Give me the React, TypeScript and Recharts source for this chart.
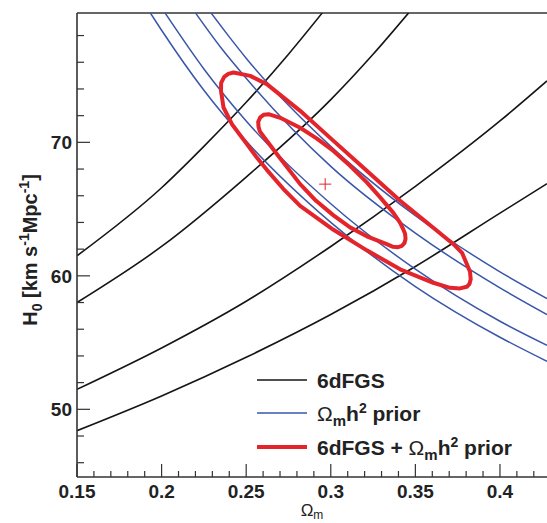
import { LineChart, Line, XAxis, YAxis, ReferenceLine, Legend } from 'recharts'

const X_DOMAIN: [number, number] = [0.15, 0.4278]
const Y_DOMAIN: [number, number] = [44.93, 79.69]

const X_TICKS = [0.15, 0.16, 0.17, 0.18, 0.19, 0.2, 0.21, 0.22, 0.23, 0.24, 0.25, 0.26, 0.27, 0.28, 0.29, 0.3, 0.31, 0.32, 0.33, 0.34, 0.35, 0.36, 0.37, 0.38, 0.39, 0.4, 0.41, 0.42]
const Y_TICKS = [46, 48, 50, 52, 54, 56, 58, 60, 62, 64, 66, 68, 70, 72, 74, 76, 78]

// 6dFGS contours (black)
const bao1 = [
  { x: 0.15, y: 61.5 }, { x: 0.2, y: 66.6 }, { x: 0.225, y: 69.7 }, { x: 0.25, y: 73.0 },
  { x: 0.275, y: 76.6 }, { x: 0.295, y: 79.7 },
]
const bao2 = [
  { x: 0.15, y: 58.0 }, { x: 0.2, y: 62.2 }, { x: 0.25, y: 67.4 }, { x: 0.3, y: 73.2 },
  { x: 0.325, y: 76.6 }, { x: 0.346, y: 79.7 },
]
const bao3 = [
  { x: 0.15, y: 51.5 }, { x: 0.2, y: 54.6 }, { x: 0.25, y: 58.1 }, { x: 0.3, y: 62.2 },
  { x: 0.35, y: 66.7 }, { x: 0.4, y: 71.6 }, { x: 0.4278, y: 74.6 },
]
const bao4 = [
  { x: 0.15, y: 48.4 }, { x: 0.2, y: 51.0 }, { x: 0.25, y: 53.9 }, { x: 0.3, y: 57.1 },
  { x: 0.35, y: 60.7 }, { x: 0.4, y: 64.7 }, { x: 0.4278, y: 66.9 },
]

// Omega_m h^2 prior contours (blue)
const prior1 = [
  { x: 0.1933, y: 79.7 }, { x: 0.2, y: 78.4 }, { x: 0.225, y: 73.9 }, { x: 0.25, y: 70.1 },
  { x: 0.3, y: 64.0 }, { x: 0.35, y: 59.2 }, { x: 0.4, y: 55.4 }, { x: 0.4278, y: 53.6 },
]
const prior2 = [
  { x: 0.202, y: 79.7 }, { x: 0.225, y: 75.5 }, { x: 0.25, y: 71.6 }, { x: 0.3, y: 65.4 },
  { x: 0.35, y: 60.5 }, { x: 0.4, y: 56.6 }, { x: 0.4278, y: 54.8 },
]
const prior3 = [
  { x: 0.22, y: 79.7 }, { x: 0.235, y: 77.1 }, { x: 0.25, y: 74.8 }, { x: 0.3, y: 68.2 },
  { x: 0.35, y: 63.2 }, { x: 0.4, y: 59.1 }, { x: 0.4278, y: 57.1 },
]
const prior4 = [
  { x: 0.2292, y: 79.7 }, { x: 0.24, y: 77.9 }, { x: 0.25, y: 76.3 }, { x: 0.3, y: 69.7 },
  { x: 0.35, y: 64.5 }, { x: 0.4, y: 60.3 }, { x: 0.4278, y: 58.3 },
]

// combined contours (red), closed loops
const combinedOuter = [
  { x: 0.2425, y: 75.23 }, { x: 0.2524, y: 74.98 }, { x: 0.2622, y: 74.36 }, { x: 0.2819, y: 72.36 },
  { x: 0.3016, y: 70.11 }, { x: 0.3213, y: 67.87 }, { x: 0.341, y: 65.62 }, { x: 0.3606, y: 63.6 },
  { x: 0.3725, y: 62.37 }, { x: 0.3776, y: 61.72 }, { x: 0.3804, y: 60.88 }, { x: 0.3823, y: 60.3 },
  { x: 0.3827, y: 59.75 }, { x: 0.382, y: 59.4 }, { x: 0.3804, y: 59.18 }, { x: 0.3764, y: 59.06 },
  { x: 0.3705, y: 59.1 }, { x: 0.3606, y: 59.48 }, { x: 0.341, y: 60.49 }, { x: 0.3213, y: 61.91 },
  { x: 0.3016, y: 63.45 }, { x: 0.2819, y: 65.24 }, { x: 0.2719, y: 66.52 }, { x: 0.2622, y: 67.94 },
  { x: 0.2563, y: 68.86 }, { x: 0.2504, y: 69.87 }, { x: 0.2416, y: 71.36 }, { x: 0.2366, y: 72.61 },
  { x: 0.2351, y: 73.86 }, { x: 0.2352, y: 74.46 }, { x: 0.237, y: 74.91 }, { x: 0.2394, y: 75.13 },
]
const combinedInner = [
  { x: 0.2632, y: 72.11 }, { x: 0.2701, y: 71.84 }, { x: 0.2819, y: 71.09 }, { x: 0.2916, y: 70.3 },
  { x: 0.3016, y: 69.36 }, { x: 0.3114, y: 68.24 }, { x: 0.3213, y: 67.0 }, { x: 0.3292, y: 65.88 },
  { x: 0.337, y: 64.72 }, { x: 0.341, y: 63.97 }, { x: 0.3427, y: 63.52 }, { x: 0.3439, y: 63.15 },
  { x: 0.3442, y: 62.77 }, { x: 0.3436, y: 62.47 }, { x: 0.3421, y: 62.25 }, { x: 0.3398, y: 62.15 },
  { x: 0.3368, y: 62.17 }, { x: 0.3331, y: 62.37 }, { x: 0.3213, y: 62.96 }, { x: 0.3114, y: 63.63 },
  { x: 0.3016, y: 64.53 }, { x: 0.2913, y: 65.62 }, { x: 0.2819, y: 66.87 }, { x: 0.2681, y: 69.12 },
  { x: 0.2593, y: 70.61 }, { x: 0.2581, y: 70.82 }, { x: 0.2573, y: 71.16 }, { x: 0.2571, y: 71.54 },
  { x: 0.2583, y: 71.87 }, { x: 0.2603, y: 72.06 },
]

const bestFit = { x: 0.2967, y: 66.87 }

const BLACK = '#151515'
const BLUE = '#3a56a8'
const RED = '#e4242b'
const AXIS = '#333'
const FONT = '"Liberation Sans", Arial, Helvetica, sans-serif'

const isMajor = (v: number, step: number) => Math.abs(v / step - Math.round(v / step)) < 1e-6

function XTick(props: any) {
  const { x, y, payload } = props
  const v = payload.value
  const major = isMajor(v, 0.05)
  return (
    <g>
      <line x1={x} x2={x} y1={y} y2={y - (major ? 13 : 6)} stroke={AXIS} strokeWidth={1.2} />
      {major && (
        <text x={x} y={y + 21} textAnchor="middle" fontSize={19} fontWeight="bold" fill="#222" fontFamily={FONT}>
          {String(v)}
        </text>
      )}
    </g>
  )
}

function YTick(props: any) {
  const { x, y, payload } = props
  const v = payload.value
  const major = isMajor(v, 10)
  return (
    <g>
      <line x1={x} x2={x + (major ? 13 : 7)} y1={y} y2={y} stroke={AXIS} strokeWidth={1.2} />
      {major && (
        <text x={x - 5} y={y + 7} textAnchor="end" fontSize={19} fontWeight="bold" fill="#222" fontFamily={FONT}>
          {String(v)}
        </text>
      )}
    </g>
  )
}

function XLabel() {
  return (
    <text x={312} y={516} textAnchor="middle" fontSize={17} fill="#222" fontFamily={FONT}>
      Ω<tspan fontSize={12} dy={3}>m</tspan>
    </text>
  )
}

function YLabel() {
  return (
    <text
      transform="translate(37 250) rotate(-90)"
      textAnchor="middle"
      fontSize={20}
      fontWeight="bold"
      fill="#222"
      fontFamily={FONT}
    >
      H<tspan fontSize={14} dy={5}>0</tspan>
      <tspan dy={-5}> [km s</tspan>
      <tspan fontSize={14} dy={-8}>-1</tspan>
      <tspan dy={8}>Mpc</tspan>
      <tspan fontSize={14} dy={-8}>-1</tspan>
      <tspan dy={8}>]</tspan>
    </text>
  )
}

function LegendBox() {
  const rows = [
    { color: BLACK, width: 1.5 },
    { color: BLUE, width: 1.5 },
    { color: RED, width: 4 },
  ]
  const ys = [20, 53, 87]
  return (
    <svg width={297} height={110} style={{ overflow: 'visible' }}>
      {rows.map((r, i) => (
        <line key={i} x1={7} x2={57} y1={ys[i]} y2={ys[i]} stroke={r.color} strokeWidth={r.width} />
      ))}
      <g fontFamily={FONT} fontWeight="bold" fontSize={21} fill="#222">
        <text x={67} y={ys[0] + 8}>6dFGS</text>
        <text x={67} y={ys[1] + 8}>
          <tspan fontWeight="normal">Ω</tspan>
          <tspan fontSize={15} dy={5}>m</tspan>
          <tspan dy={-5}>h</tspan>
          <tspan fontSize={14} dy={-8}>2</tspan>
          <tspan dy={8}> prior</tspan>
        </text>
        <text x={67} y={ys[2] + 8}>
          6dFGS + <tspan fontWeight="normal">Ω</tspan>
          <tspan fontSize={15} dy={5}>m</tspan>
          <tspan dy={-5}>h</tspan>
          <tspan fontSize={14} dy={-8}>2</tspan>
          <tspan dy={8}> prior</tspan>
        </text>
      </g>
    </svg>
  )
}

export default function App() {
  const lineProps = { dataKey: 'y', dot: false, activeDot: false, isAnimationActive: false, legendType: 'none' as const }
  return (
    <div style={{ position: 'fixed', left: 0, top: 0, width: 547, height: 523, background: '#fff' }}>
      <LineChart width={547} height={523} margin={{ top: 13, right: 0, bottom: 0, left: 0 }}>
        <XAxis
          dataKey="x"
          type="number"
          domain={X_DOMAIN}
          allowDataOverflow
          ticks={X_TICKS}
          interval={0}
          tickSize={0}
          tickMargin={0}
          tickLine={false}
          tick={XTick}
          height={46}
          stroke={AXIS}
          strokeWidth={1.6}
        />
        <YAxis
          type="number"
          domain={Y_DOMAIN}
          allowDataOverflow
          ticks={Y_TICKS}
          interval={0}
          tickSize={0}
          tickMargin={0}
          tickLine={false}
          tick={YTick}
          width={77}
          stroke={AXIS}
          strokeWidth={1.6}
        />
        <ReferenceLine y={Y_DOMAIN[1]} stroke={AXIS} strokeWidth={1.6} ifOverflow="visible" />

        <Line {...lineProps} data={bao1} type="monotone" stroke={BLACK} strokeWidth={1.6} />
        <Line {...lineProps} data={bao2} type="monotone" stroke={BLACK} strokeWidth={1.6} />
        <Line {...lineProps} data={bao3} type="monotone" stroke={BLACK} strokeWidth={1.6} />
        <Line {...lineProps} data={bao4} type="monotone" stroke={BLACK} strokeWidth={1.6} />

        <Line {...lineProps} data={prior1} type="monotone" stroke={BLUE} strokeWidth={1.5} />
        <Line {...lineProps} data={prior2} type="monotone" stroke={BLUE} strokeWidth={1.5} />
        <Line {...lineProps} data={prior3} type="monotone" stroke={BLUE} strokeWidth={1.5} />
        <Line {...lineProps} data={prior4} type="monotone" stroke={BLUE} strokeWidth={1.5} />

        <Line {...lineProps} data={combinedOuter} type="linearClosed" stroke={RED} strokeWidth={4} strokeLinejoin="round" />
        <Line {...lineProps} data={combinedInner} type="linearClosed" stroke={RED} strokeWidth={4} strokeLinejoin="round" />

        <ReferenceLine
          segment={[{ x: bestFit.x - 0.0036, y: bestFit.y }, { x: bestFit.x + 0.0036, y: bestFit.y }]}
          stroke={RED}
          strokeWidth={1}
        />
        <ReferenceLine
          segment={[{ x: bestFit.x, y: bestFit.y - 0.45 }, { x: bestFit.x, y: bestFit.y + 0.45 }]}
          stroke={RED}
          strokeWidth={1}
        />

        <Legend
          layout="horizontal"
          verticalAlign="middle"
          align="center"
          content={LegendBox}
          wrapperStyle={{ position: 'absolute', left: 250, top: 360, width: 297, height: 110 }}
        />
        <XLabel />
        <YLabel />
      </LineChart>
    </div>
  )
}
